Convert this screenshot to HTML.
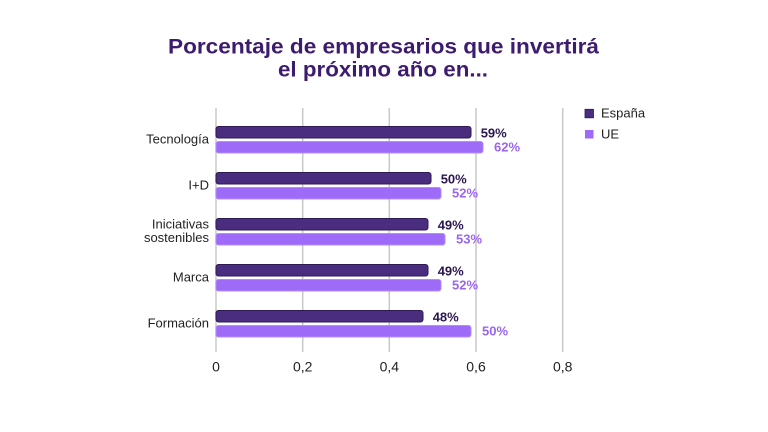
<!DOCTYPE html>
<html>
<head>
<meta charset="utf-8">
<style>
html,body{margin:0;padding:0;background:#fff;}
svg{display:block;}
text{font-family:"Liberation Sans",sans-serif;}
</style>
</head>
<body>
<svg width="768" height="432" viewBox="0 0 768 432" xmlns="http://www.w3.org/2000/svg">
<rect width="768" height="432" fill="#fff"/>
<!-- Title -->
<text x="168" y="53.3" font-size="21" font-weight="bold" fill="#3d1b6e" textLength="431" lengthAdjust="spacingAndGlyphs">Porcentaje de empresarios que invertirá</text>
<text x="278" y="76.7" font-size="21" font-weight="bold" fill="#3d1b6e" textLength="210" lengthAdjust="spacingAndGlyphs">el próximo año en...</text>

<!-- Gridlines -->
<g stroke="#c9c9c9" stroke-width="1.5">
<line x1="216" y1="108" x2="216" y2="352"/>
<line x1="302.7" y1="108" x2="302.7" y2="352"/>
<line x1="389.3" y1="108" x2="389.3" y2="352"/>
<line x1="476" y1="108" x2="476" y2="352"/>
<line x1="562.7" y1="108" x2="562.7" y2="352"/>
</g>

<!-- Tick labels -->
<g font-size="14" fill="#222" text-anchor="middle">
<text x="216" y="371.7">0</text>
<text x="302.7" y="371.7">0,2</text>
<text x="389.3" y="371.7">0,4</text>
<text x="476" y="371.7">0,6</text>
<text x="562.7" y="371.7">0,8</text>
</g>

<!-- Bars España -->
<g fill="#4a2d7f" stroke="#2e1a55" stroke-width="1">
<rect x="216" y="126.5" width="255" height="11.5" rx="2.5"/>
<rect x="216" y="172.5" width="215" height="11.5" rx="2.5"/>
<rect x="216" y="218.5" width="212" height="11.5" rx="2.5"/>
<rect x="216" y="264.5" width="212" height="11.5" rx="2.5"/>
<rect x="216" y="310.5" width="207" height="11.5" rx="2.5"/>
</g>
<!-- Bars UE -->
<g fill="#9d6bf7" stroke="#b48cf8" stroke-width="1">
<rect x="216" y="141.5" width="267" height="11.5" rx="2.5"/>
<rect x="216" y="187.5" width="225" height="11.5" rx="2.5"/>
<rect x="216" y="233.5" width="229" height="11.5" rx="2.5"/>
<rect x="216" y="279.5" width="225" height="11.5" rx="2.5"/>
<rect x="216" y="325.5" width="255" height="11.5" rx="2.5"/>
</g>

<!-- Value labels -->
<g font-size="13" font-weight="bold" fill="#2a1650">
<text x="480.7" y="137.3">59%</text>
<text x="440.7" y="183.3">50%</text>
<text x="437.7" y="229.3">49%</text>
<text x="437.7" y="275.3">49%</text>
<text x="432.7" y="321.3">48%</text>
</g>
<g font-size="13" font-weight="bold" fill="#9a66f0">
<text x="494" y="151.7">62%</text>
<text x="452" y="197.7">52%</text>
<text x="456" y="243.7">53%</text>
<text x="452" y="289.7">52%</text>
<text x="482" y="335.7">50%</text>
</g>

<!-- Category labels -->
<g font-size="13" fill="#222" text-anchor="end">
<text x="209" y="143.3">Tecnología</text>
<text x="209" y="189.3">I+D</text>
<text x="209" y="228.6">Iniciativas</text>
<text x="209" y="242">sostenibles</text>
<text x="209" y="281.5">Marca</text>
<text x="209" y="327.3">Formación</text>
</g>

<!-- Legend -->
<rect x="585" y="109.3" width="8.5" height="8.5" fill="#4a2d7f" stroke="#2e1a55" stroke-width="0.8"/>
<rect x="585" y="130" width="8.5" height="8.5" fill="#9d6bf7"/>
<g font-size="13" fill="#222">
<text x="601" y="117.7">España</text>
<text x="601" y="138.5">UE</text>
</g>
</svg>
</body>
</html>
